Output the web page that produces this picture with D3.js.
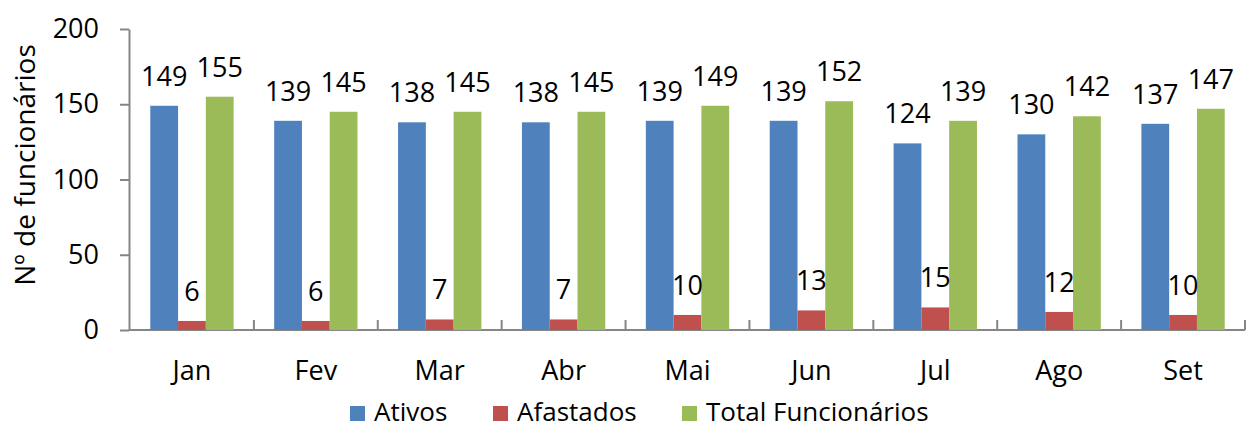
<html>
<head>
<script src="https://d3js.org/d3.v7.min.js"></script>
<style>
    body { margin: 0; background: #fff; }
    svg text { font-family: "Open Sans", sans-serif; fill: #000; }
    .axis path, .axis line { stroke: #868686; stroke-width: 2; }
</style>
</head>
<body>
    <svg id="chart" width="1248" height="430"></svg>
    <script>
        // data
        const months = ["Jan", "Fev", "Mar", "Abr", "Mai", "Jun", "Jul", "Ago", "Set"];
        const seriesNames = ["Ativos", "Afastados", "Total Funcionários"];
        const ativos = [149, 139, 138, 138, 139, 139, 124, 130, 137];
        const afastados = [6, 6, 7, 7, 10, 13, 15, 12, 10];
        const total = [155, 145, 145, 145, 149, 152, 139, 142, 147];
        const yTicks = [0, 50, 100, 150, 200];
        const colors = ["#4F81BD", "#C0504D", "#9BBB59"];

        const svg = d3.select("svg#chart");
        const margin = {left: 129, top: 29};
        const x0 = 130, x1 = 1245, yBottom = 330;
        const fontSize = "27px";

        const seriesValues = [ativos, afastados, total];
        const rows = months.map((m, i) => ({
            month: m,
            values: seriesNames.map((s, j) => ({series: s, idx: j, value: seriesValues[j][i]}))
        }));

        const xScale = d3.scaleBand().domain(months).range([x0, x1]);
        const xInner = d3.scaleBand().domain(seriesNames)
                         .range([0, xScale.bandwidth()])
                         .paddingOuter(0.73);
        const yScale = d3.scaleLinear().domain([0, 200]).range([yBottom, margin.top]);

        // y axis
        const leftAxis = d3.axisLeft(yScale).tickValues(yTicks).tickSize(9).tickPadding(21).tickSizeOuter(0);
        const gy = svg.append("g").attr("class", "axis")
            .attr("transform", `translate(${margin.left},0)`)
            .call(leftAxis);
        gy.selectAll("text").style("font-size", fontSize);

        // x axis
        const bottomAxis = d3.axisBottom(xScale).tickSize(0).tickPadding(31).tickSizeOuter(0);
        const gx = svg.append("g").attr("class", "axis")
            .attr("transform", `translate(0,${yBottom})`)
            .call(bottomAxis);
        gx.select(".domain").attr("d", `M${margin.left},0H${x1}`);
        gx.selectAll("text").style("font-size", fontSize);
        // category separators (ticks point up)
        const sepPositions = months.slice(1).map(m => xScale(m)).concat([x1]);
        gx.selectAll("line.sep").data(sepPositions)
            .join("line").attr("class", "sep")
            .attr("x1", d => d).attr("x2", d => d)
            .attr("y1", 0).attr("y2", -10)
            .attr("stroke", "#868686").attr("stroke-width", 2);

        // bars
        const groups = svg.selectAll("g.month").data(rows)
            .join("g").attr("class", "month")
            .attr("transform", d => `translate(${xScale(d.month)},0)`);

        groups.selectAll("rect").data(d => d.values)
            .join("rect")
            .attr("x", d => xInner(d.series))
            .attr("width", xInner.bandwidth())
            .attr("y", d => yScale(d.value))
            .attr("height", d => yBottom - yScale(d.value))
            .attr("fill", d => colors[d.idx]);

        groups.selectAll("text.lbl").data(d => d.values)
            .join("text").attr("class", "lbl")
            .attr("x", d => xInner(d.series) + xInner.bandwidth() / 2)
            .attr("y", d => yScale(d.value) - 20)
            .attr("text-anchor", "middle")
            .style("font-size", fontSize)
            .text(d => d.value);

        // y axis title
        svg.append("text")
            .attr("transform", `translate(35, 165) rotate(-90)`)
            .attr("text-anchor", "middle")
            .style("font-size", "28px")
            .text("Nº de funcionários");

        // legend
        const legendX = [350, 493, 682];
        const legend = svg.selectAll("g.legend").data(seriesNames)
            .join("g").attr("class", "legend")
            .attr("transform", (d, i) => `translate(${legendX[i]},406)`);
        legend.append("rect")
            .attr("width", 15).attr("height", 15)
            .attr("fill", (d, i) => colors[i]);
        legend.append("text")
            .attr("x", 24).attr("y", 15)
            .style("font-size", "26px")
            .text(d => d);
    </script>
</body>
</html>
